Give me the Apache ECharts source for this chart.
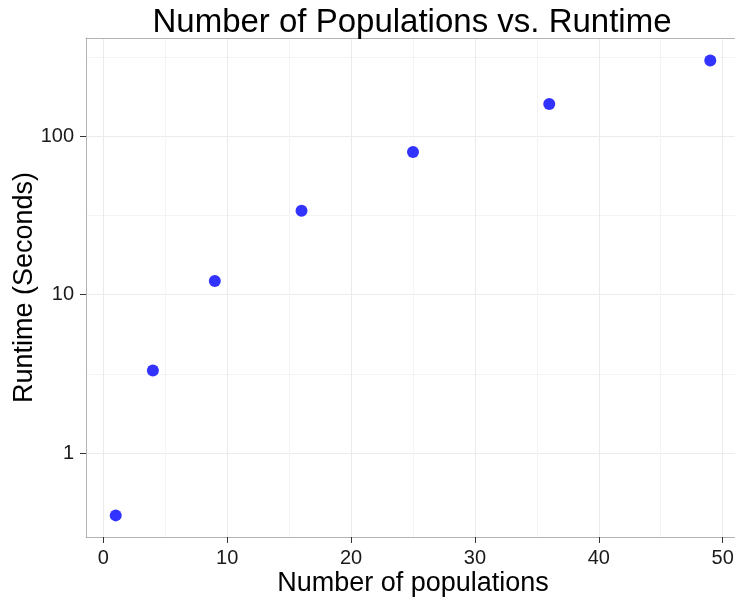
<!DOCTYPE html>
<html>
<head>
<meta charset="utf-8">
<script src="https://cdn.jsdelivr.net/npm/echarts@6/dist/echarts.min.js"></script>
<style>html,body{margin:0;padding:0;background:#fff;}#c{width:735px;height:602px;}</style>
</head>
<body>
<div id="c"></div>
<script>
// Data
const populations = [1, 4, 9, 16, 25, 36, 49];
const runtimes = [0.404, 3.32, 12.2, 33.9, 79.7, 160, 301];
const xTicks = [0, 10, 20, 30, 40, 50];
const xMinor = [5, 15, 25, 35, 45];
const yTicks = [1, 10, 100];
const yMinor = [3.1623, 31.623, 316.23];

const points = populations.map((p, i) => [p, runtimes[i]]);
const FONT = '"Liberation Sans", Arial, Helvetica, sans-serif';
const BORDER = '#b3b3b3';

const chart = echarts.init(document.getElementById('c'), null, {renderer: 'canvas'});
chart.setOption({
  animation: false,
  backgroundColor: '#ffffff',
  title: {
    text: 'Number of Populations vs. Runtime',
    left: 407, top: 1, textAlign: 'center',
    textStyle: {fontFamily: FONT, fontSize: 33, fontWeight: 'normal', color: '#000'}
  },
  grid: {
    left: 86, top: 38, width: 654, height: 499,
    show: false, containLabel: false, outerBoundsMode: 'none'
  },
  xAxis: [{
    type: 'value', min: -1.4, max: 51.4,
    name: 'Number of populations', nameLocation: 'middle', nameGap: 33, nameMoveOverlap: false,
    nameTextStyle: {fontFamily: FONT, fontSize: 27, color: '#000'},
    axisLine: {show: true, onZero: false, lineStyle: {color: BORDER, width: 1}},
    axisTick: {show: true, length: 6, customValues: xTicks, lineStyle: {color: '#333', width: 1}},
    axisLabel: {customValues: xTicks, fontFamily: FONT, fontSize: 20, color: '#1a1a1a', margin: 11},
    splitLine: {show: true, lineStyle: {color: '#ebebeb', width: 1}}
  }, {
    type: 'value', min: -1.4, max: 51.4, position: 'top',
    axisLine: {show: true, onZero: false, lineStyle: {color: BORDER, width: 1}},
    axisTick: {show: false, customValues: xMinor},
    axisLabel: {show: false, customValues: xMinor},
    splitLine: {show: true, lineStyle: {color: '#f4f4f4', width: 1}}
  }],
  yAxis: [{
    type: 'log', logBase: 10, min: 0.295, max: 418,
    name: 'Runtime (Seconds)', nameLocation: 'middle', nameGap: 48, nameMoveOverlap: false,
    nameTextStyle: {fontFamily: FONT, fontSize: 27, color: '#000'},
    axisLine: {show: true, onZero: false, lineStyle: {color: BORDER, width: 1}},
    axisTick: {show: true, length: 6, customValues: yTicks, lineStyle: {color: '#333', width: 1}},
    axisLabel: {customValues: yTicks, fontFamily: FONT, fontSize: 20, color: '#1a1a1a', margin: 12},
    splitLine: {show: true, lineStyle: {color: '#ebebeb', width: 1}}
  }, {
    type: 'log', logBase: 10, min: 0.295, max: 418, position: 'left',
    axisLine: {show: false, onZero: false},
    axisTick: {show: false, customValues: yMinor},
    axisLabel: {show: false, customValues: yMinor},
    splitLine: {show: true, lineStyle: {color: '#f4f4f4', width: 1}}
  }],
  series: [{
    type: 'scatter',
    xAxisIndex: 0, yAxisIndex: 0,
    data: points,
    symbol: 'circle', symbolSize: 12,
    itemStyle: {color: '#3333ff', opacity: 1},
    z: 10
  }]
});
</script>
</body>
</html>
